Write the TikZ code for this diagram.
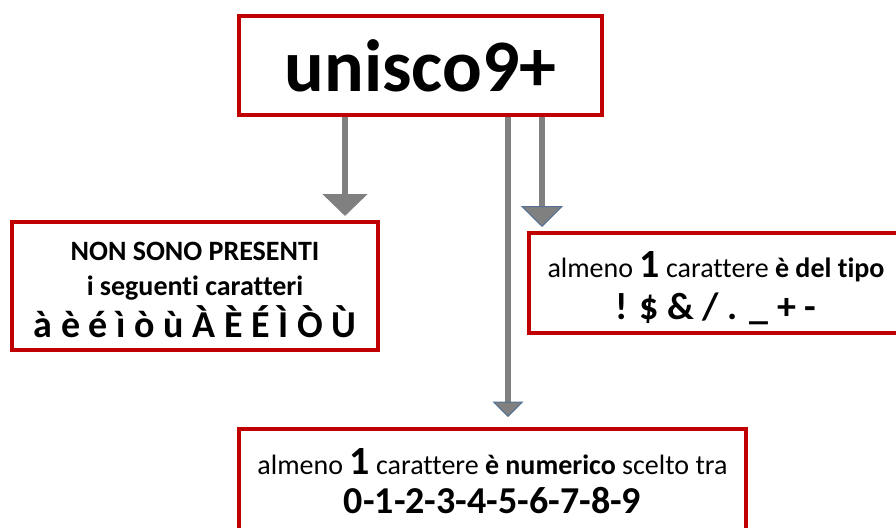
\documentclass[tikz,border=0pt]{standalone}
\usepackage{fontspec}
\setmainfont{Carlito}[Ligatures=NoCommon]
\usetikzlibrary{arrows.meta}

\definecolor{boxred}{RGB}{192,0,0}
\definecolor{arrowgray}{RGB}{128,128,128}
\definecolor{edgeblue}{RGB}{84,112,146}
\newcommand{\setsize}[2]{\fontsize{#1}{#2}\selectfont}

\begin{document}
\begin{tikzpicture}[
    x=1pt, y=-1pt,
    box/.style={rectangle, draw=boxred, line width=4pt, fill=white, align=center, inner sep=0pt},
    grayarrow/.style={draw=arrowgray, line width=5.5pt, -{Triangle[width=44pt, length=22pt]}},
    bluearrow/.style={draw=arrowgray, line width=5.5pt, -{Triangle[width=#1, length=0.5*#1, line width=1pt, color=edgeblue, fill=arrowgray]}}
]
\useasboundingbox (0,0) rectangle (896,527);
\clip (0,0) rectangle (896,527);

\node[box, minimum width=363pt, minimum height=99pt, text height=53pt, text depth=0pt,
      font=\bfseries\setsize{74}{80}] (pwd) at (420.5,65.5) {unisco9+};

\node[box, minimum width=366pt, minimum height=128pt, font=\bfseries\setsize{28}{35}] (absent) at (195,286)
    {\rule{0pt}{26pt}NON SONO PRESENTI\\i seguenti caratteri\\[4pt]{\setsize{38}{40}à è é ì ò ù À È É Ì Ò Ù}};

\node[box, minimum width=374pt, minimum height=100pt, font=\setsize{28}{37}] (special) at (716,283)
    {\rule{0pt}{37pt}almeno {\bfseries\setsize{40}{40}1} carattere \textbf{è del tipo}\\[5pt]{\bfseries\setsize{38}{40}! \$ \& / . \_ + -}};

\node[box, minimum width=507pt, minimum height=105pt, font=\setsize{28}{36}] (digit) at (492.5,481.5)
    {almeno {\bfseries\setsize{40}{40}1} carattere \textbf{è numerico} scelto tra\\[3pt]{\bfseries\setsize{38}{40}0-1-2-3-4-5-6-7-8-9}};

% frecce
\draw[grayarrow, shorten >=4pt] (pwd.south -| 345,0) -- (absent.north -| 345,0);
\draw[bluearrow=42pt, shorten >=4pt] (pwd.south -| 542,0) -- (special.north -| 542,0);
\draw[bluearrow=31pt, shorten >=10pt] (pwd.south -| 508,0) -- (digit.north -| 508,0);

\end{tikzpicture}
\end{document}
